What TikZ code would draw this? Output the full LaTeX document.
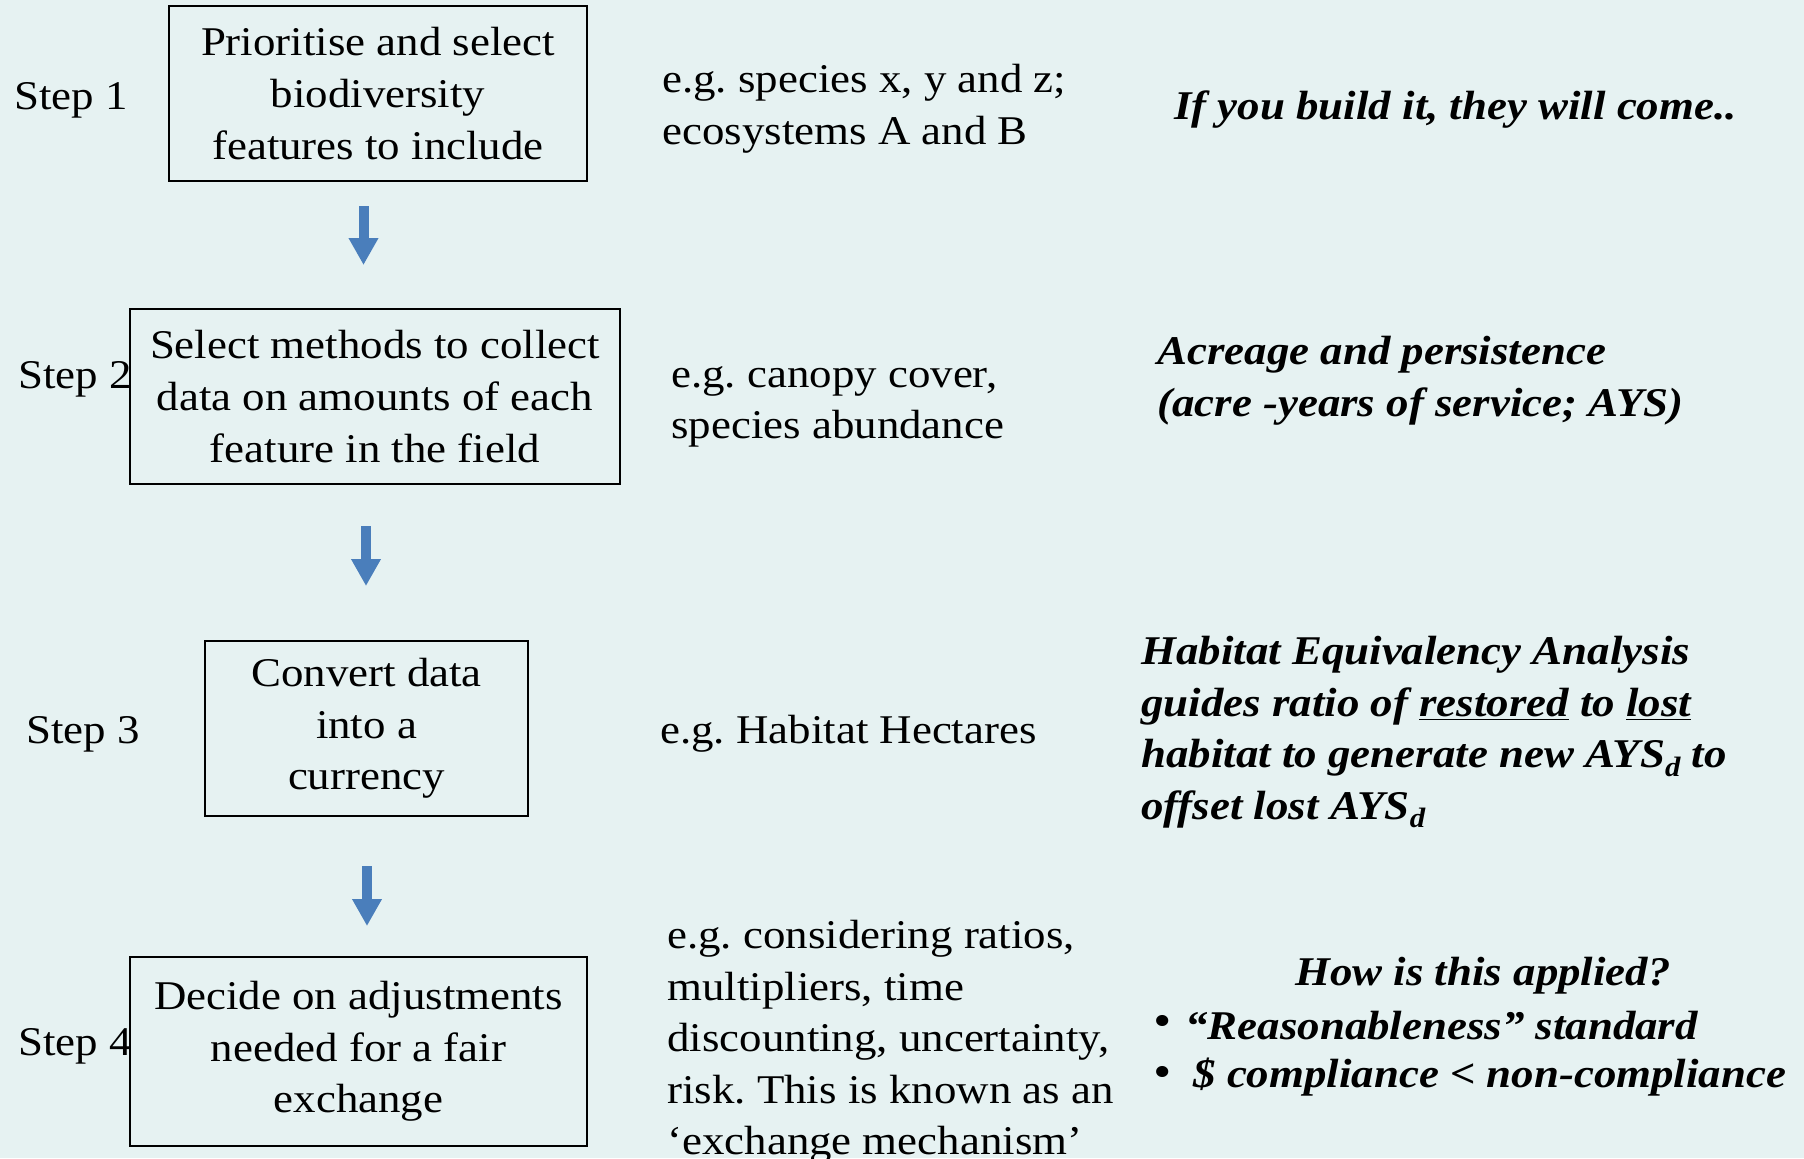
\documentclass[tikz,border=0pt]{standalone}
\usepackage{fontspec}
\setmainfont{Liberation Serif}[FakeStretch=1.1]
\usetikzlibrary{arrows.meta}
\definecolor{bg}{HTML}{E6F2F2}
\definecolor{arr}{HTML}{4A7EBB}
\newcommand{\subd}{\raisebox{-0.45ex}{\fontsize{14}{14}\selectfont d}}
\begin{document}
\frenchspacing
\begin{tikzpicture}[x=0.5pt,y=-0.5pt,
  every node/.style={inner sep=0pt, font=\fontsize{20.4}{25.8}\selectfont},
  stepbox/.style={draw=black, line width=0.85pt, align=center, inner sep=0pt},
  lbl/.style={anchor=west, align=left},
  note/.style={anchor=west, align=left, font=\fontsize{20.4}{25.8}\selectfont\bfseries\itshape},
  blockarrow/.style={draw=arr, line width=5pt, -{Triangle[width=14pt,length=13.5pt]}}]
\fill[bg] (0,0) rectangle (1804,1158);
\useasboundingbox (0,0) rectangle (1804,1158);

% boxes
\node[stepbox, minimum width=209pt, minimum height=87.5pt] (b1) at (378,93.5) {Prioritise and select\\biodiversity\\features to include};
\node[stepbox, minimum width=245pt, minimum height=87.5pt] (b2) at (375,396.5) {Select methods to collect\\data on amounts of each\\feature in the field};
\node[stepbox, minimum width=161.5pt, minimum height=87.5pt] (b3) at (366.5,728.5) {Convert data\\into a\\currency};
\node[stepbox, minimum width=228.5pt, minimum height=94.5pt] (b4) at (358.5,1051.5) {Decide on adjustments\\needed for a fair\\exchange};

% step labels
\node[lbl] (s1) at (14,100) {Step 1};
\node[lbl] (s2) at (18,379) {Step 2};
\node[lbl] (s3) at (26,734) {Step 3};
\node[lbl] (s4) at (18,1046) {Step 4};

% arrows
\coordinate (a1s) at (363.5,206); \coordinate (a1e) at (363.5,265);
\coordinate (a2s) at (366,526);   \coordinate (a2e) at (366,586);
\coordinate (a3s) at (367,866);   \coordinate (a3e) at (367,926);
\draw[blockarrow] (a1s) -- (a1e);
\draw[blockarrow] (a2s) -- (a2e);
\draw[blockarrow] (a3s) -- (a3e);

% examples
\node[lbl] (e1) at (662,108.5) {e.g. species x, y and z;\\ecosystems A and B};
\node[lbl] (e2) at (671,407) {e.g. canopy cover,\\species abundance};
\node[lbl] (e3) at (660,734) {e.g. Habitat Hectares};
\node[lbl] (e4) at (667,1042) {e.g. considering ratios,\\multipliers, time\\discounting, uncertainty,\\risk. This is known as an\\‘exchange mechanism’};

% notes
\node[note] (n1) at (1174,110) {If you build it, they will come..};
\node[note] (n2) at (1157,381) {Acreage and persistence\\(acre -years of service; AYS)};
\node[note] (n3) at (1141,732) {Habitat Equivalency Analysis\\guides ratio of \underline{restored} to \underline{lost}\\habitat to generate new AYS\subd{} to\\offset lost AYS\subd};
\node[note, anchor=center] (n4) at (1483,976) {How is this applied?};
\node[note, anchor=center] (bu1) at (1162,1025) {•};
\node[note] (n5) at (1185,1026) {“Reasonableness” standard};
\node[note, anchor=center] (bu2) at (1162,1076) {•};
\node[note] (n6) at (1193,1077) {\$ compliance < non-compliance};
\end{tikzpicture}
\end{document}
